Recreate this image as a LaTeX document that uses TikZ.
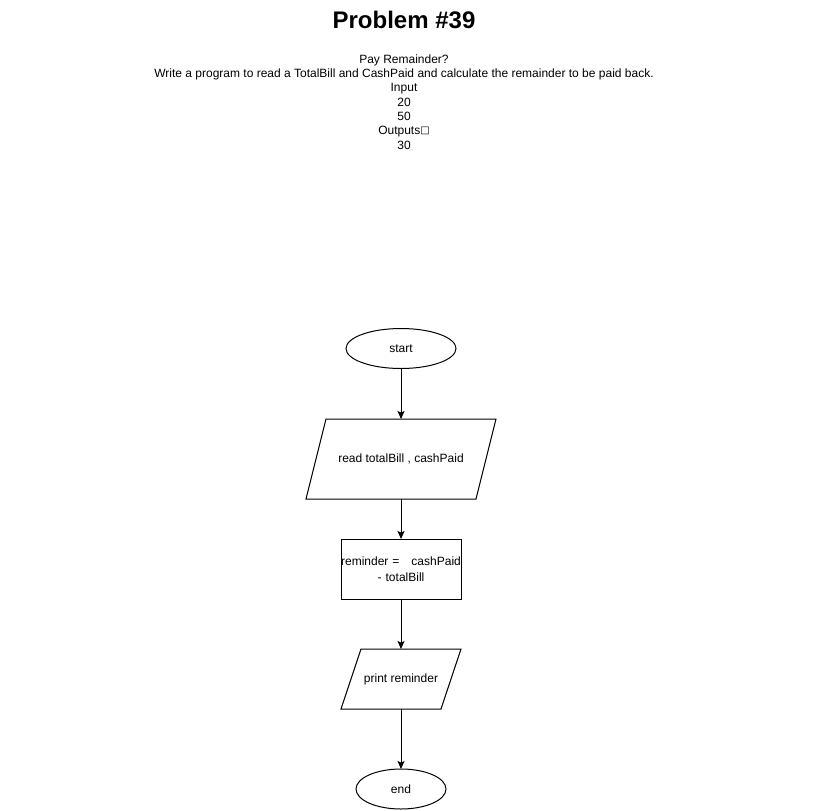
\documentclass[tikz,border=0pt]{standalone}
\usepackage{fontspec}
\setmainfont{Liberation Sans}
\newfontfamily\symfont{DejaVu Sans}
\usetikzlibrary{shapes.geometric,arrows.meta,calc}

\tikzset{
  txt/.style={font=\fontsize{9}{10.75}\selectfont, align=center, inner sep=0},
  term/.style={ellipse, draw, inner sep=0, outer sep=0, font=\fontsize{9}{10.75}\selectfont},
  iobox/.style={draw=none, inner sep=0, outer sep=0, font=\fontsize{9}{10.75}\selectfont},
  procbox/.style={rectangle, draw, inner sep=0, outer sep=0, align=center},
  flow/.style={-{Stealth[length=6pt,width=5.25pt,inset=1.2pt]}}
}

\begin{document}
\begin{tikzpicture}[x=0.75pt, y=-0.75pt, line width=0.75pt]
  \useasboundingbox (0,0) rectangle (816,810);

  % heading
  \path (404,20) node[inner sep=0, font=\fontsize{18}{20}\selectfont\bfseries] (title) {Problem \#39};
  \path (404,102) node[txt] (desc) {Pay Remainder?\\
    Write a program to read a TotalBill and CashPaid and calculate the remainder to be paid back.\\
    Input\\ 20\\ 50\\ Outputs\raisebox{0.8pt}{\symfont\fontsize{7.5}{8}\selectfont □}\\ 30};

  % flowchart
  \path (401,348.5) node[term, minimum width=82.5pt, minimum height=30pt] (start) {start};
  \path (401,459) node[iobox, minimum width=127.5pt, minimum height=60pt] (read) {read totalBill , cashPaid};
  \path (401,569) node[procbox, minimum width=90pt, minimum height=45pt, text width=90pt,
      font=\fontsize{9}{12}\selectfont] (calc) {reminder =\ \ \ cashPaid\\- totalBill};
  \path (401,679) node[iobox, minimum width=75pt, minimum height=45pt] (print) {print reminder};
  \path (401,789) node[term, minimum width=67.5pt, minimum height=30pt] (end) {end};

  % slanted sides of the input/output boxes
  \draw ($(read.north west)+(10,0)$) -- ($(read.north east)+(10,0)$)
     -- ($(read.south east)-(10,0)$) -- ($(read.south west)-(10,0)$) -- cycle;
  \draw ($(print.north west)+(10,0)$) -- ($(print.north east)+(10,0)$)
     -- ($(print.south east)-(10,0)$) -- ($(print.south west)-(10,0)$) -- cycle;

  \draw[flow] (start) -- (read);
  \draw[flow] (read) -- (calc);
  \draw[flow] (calc) -- (print);
  \draw[flow] (print) -- (end);
\end{tikzpicture}
\end{document}
